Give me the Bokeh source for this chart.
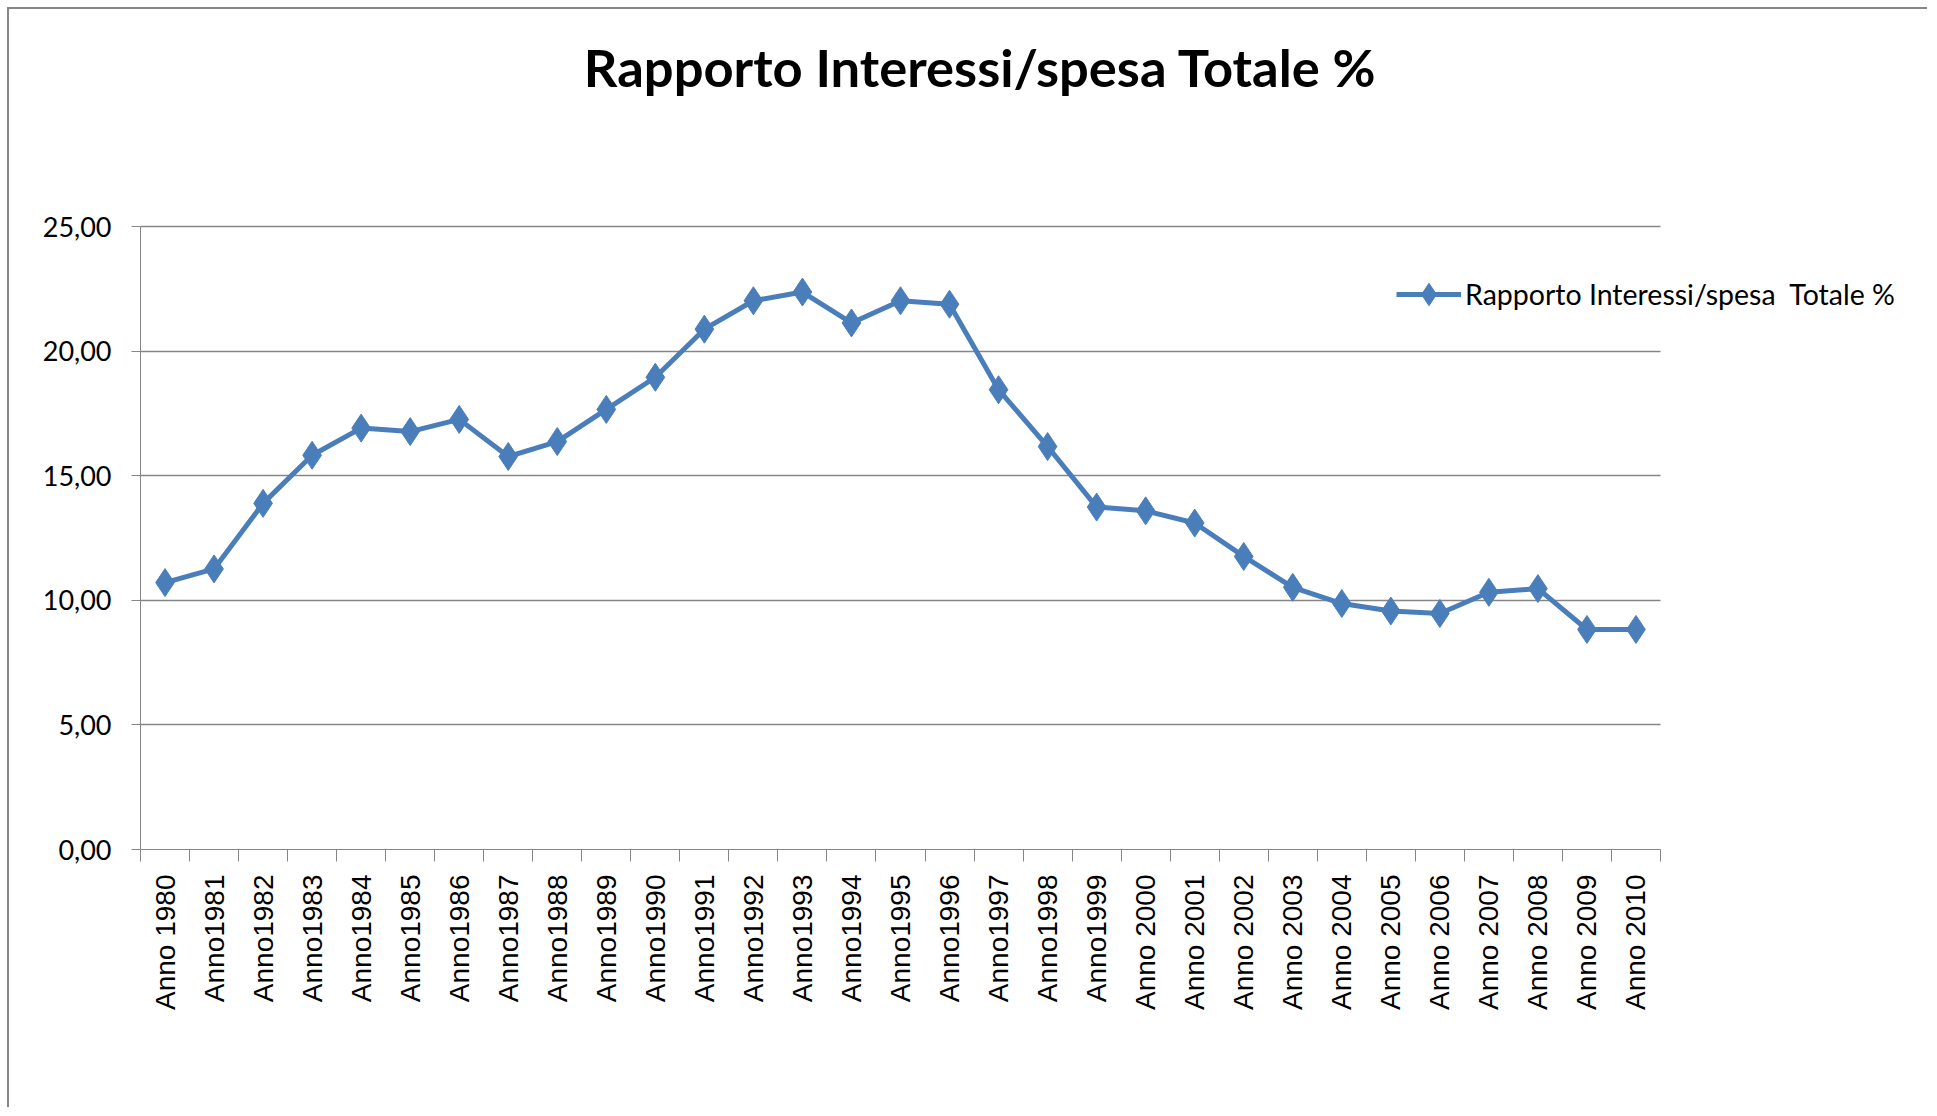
import math
from bokeh.plotting import figure
from bokeh.models import (ColumnDataSource, FixedTicker, CustomJSTickFormatter, Legend,
                          LegendItem, Range1d, Label)
from bokeh.embed import file_html
from bokeh.resources import INLINE

years = ["Anno 1980", "Anno1981", "Anno1982", "Anno1983", "Anno1984", "Anno1985", "Anno1986",
         "Anno1987", "Anno1988", "Anno1989", "Anno1990", "Anno1991", "Anno1992", "Anno1993",
         "Anno1994", "Anno1995", "Anno1996", "Anno1997", "Anno1998", "Anno1999", "Anno 2000",
         "Anno 2001", "Anno 2002", "Anno 2003", "Anno 2004", "Anno 2005", "Anno 2006",
         "Anno 2007", "Anno 2008", "Anno 2009", "Anno 2010"]
ratio = [10.71, 11.26, 13.89, 15.82, 16.91, 16.77, 17.26, 15.77, 16.37, 17.66, 18.95,
         20.88, 22.02, 22.37, 21.13, 22.02, 21.88, 18.45, 16.17, 13.74, 13.59, 13.10,
         11.76, 10.52, 9.87, 9.57, 9.47, 10.32, 10.47, 8.83, 8.83]
series_name = "Rapporto Interessi/spesa  Totale %"
title_text = "Rapporto Interessi/spesa Totale %"
y_ticks = [0, 5, 10, 15, 20, 25]
y_max = 25

# ---- layout constants (page pixels) ----
ORIGIN = 9                 # content origin on the page (margin + border)
W, H = 1920, 1100
PLOT_L, PLOT_R = 140, 1660  # where the category axis spans
PLOT_T, PLOT_B = 226, 849   # y=25 and y=0
FRAME_T = 11
FRAME_R = ORIGIN + W - 5

n = len(years)
px_per_x = (PLOT_R - PLOT_L) / n
px_per_y = (PLOT_B - PLOT_T) / y_max
x0 = -0.5
x1 = x0 + (FRAME_R - PLOT_L) / px_per_x
y1 = y_max + (PLOT_T - FRAME_T) / px_per_y

idx = list(range(n))
src = ColumnDataSource(dict(x=idx, y=ratio))

p = figure(width=W, height=H, output_backend="svg", toolbar_location=None,
           x_range=Range1d(x0, x1), y_range=Range1d(0, y1),
           min_border_left=PLOT_L - ORIGIN, min_border_right=5,
           min_border_top=FRAME_T - ORIGIN, min_border_bottom=ORIGIN + H - PLOT_B,
           background_fill_color="white", border_fill_color="white")
p.styles = {"margin-left": "7px", "margin-top": "7px",
            "border-left": "2px solid #868686", "border-top": "2px solid #868686"}
p.outline_line_color = None

BLUE = "#4A7EBB"
ln = p.line("x", "y", source=src, line_color=BLUE, line_width=5)
sc = p.scatter("x", "y", source=src, marker="diamond", size=28, fill_color=BLUE, line_color=BLUE)

# title (drawn inside the extended frame)
title_x = x0 + (980 - PLOT_L) / px_per_x
title_y = y_max + (PLOT_T - 66) / px_per_y
p.add_layout(Label(x=title_x, y=title_y, text=title_text, text_align="center",
                   text_baseline="middle", text_font="Lato", text_font_size="52.5px",
                   text_font_style="bold", text_color="black"))

# x axis
p.xaxis.bounds = (x0, n - 0.5)
p.xaxis.ticker = FixedTicker(ticks=idx, minor_ticks=[i - 0.5 for i in range(n + 1)])
p.xaxis.major_label_overrides = {i: years[i] for i in idx}
p.xaxis.major_label_orientation = math.pi / 2
p.xaxis.major_tick_out = 0
p.xaxis.major_tick_in = 0
p.xaxis.minor_tick_out = 12
p.xaxis.minor_tick_in = 0
p.xaxis.minor_tick_line_color = "#868686"
p.xaxis.axis_line_color = "#868686"
p.xaxis.major_label_text_font = "Liberation Sans"
p.xaxis.major_label_text_font_size = "28px"
p.xaxis.major_label_text_color = "black"
p.xaxis.major_label_standoff = 13

# y axis
p.yaxis.bounds = (0, y_max)
p.yaxis.ticker = FixedTicker(ticks=y_ticks)
p.yaxis.formatter = CustomJSTickFormatter(code="return tick.toFixed(2).replace('.', ',');")
p.yaxis.minor_tick_line_color = None
p.yaxis.major_tick_out = 9
p.yaxis.major_tick_in = 0
p.yaxis.major_tick_line_color = "#868686"
p.yaxis.axis_line_color = "#868686"
p.yaxis.major_label_text_font = "Lato"
p.yaxis.major_label_text_font_size = "27px"
p.yaxis.major_label_text_color = "black"
p.yaxis.major_label_standoff = 20

p.xgrid.grid_line_color = None
p.ygrid.grid_line_color = "#868686"
p.ygrid.grid_line_width = 1.5
p.ygrid.cross_bounds = (x0, n - 0.5)

GH = 56
legend = Legend(items=[LegendItem(label=series_name, renderers=[ln, sc])],
                location=(1396 - PLOT_L, PLOT_B - 294 - GH // 2), padding=0, margin=0,
                glyph_width=65, glyph_height=GH,
                label_standoff=4, label_text_font="Lato", label_text_font_size="28.5px",
                label_text_color="black", background_fill_alpha=0, border_line_color=None)
p.add_layout(legend, "center")

open("out.html", "w").write(file_html(p, INLINE))
